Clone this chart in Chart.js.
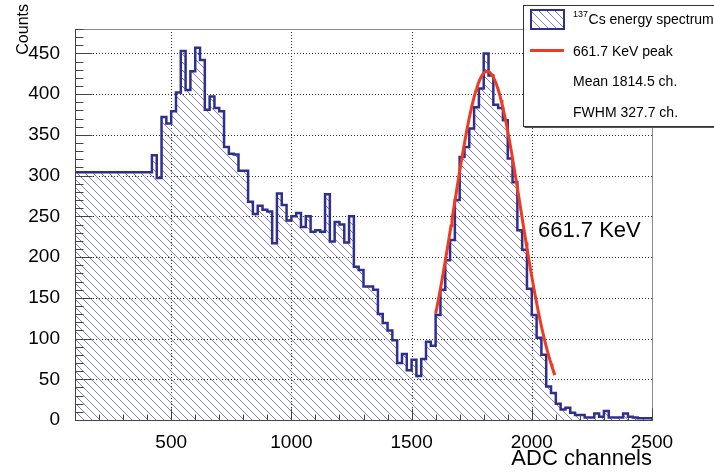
<!DOCTYPE html>
<html>
<head>
<meta charset="utf-8">
<title>137Cs energy spectrum</title>
<script src="https://cdn.jsdelivr.net/npm/chart.js@4.4.1/dist/chart.umd.min.js"></script>
<style>
  html, body { margin: 0; padding: 0; background: #fff; }
  #wrap { width: 714px; height: 475px; }
</style>
</head>
<body>
<div id="wrap"><canvas id="spectrum" width="714" height="475"></canvas></div>
<script>
// ADC histogram, 20 channel bins starting at channel 100
const BIN_START = 100;
const BIN_WIDTH = 20;
const counts = [
    304, 304, 304, 304, 304, 304, 304, 304, 304, 304, 304, 304, 304, 304, 304, 304,
    325, 297, 372, 364, 379, 402, 453, 405, 428, 457, 442, 381, 397, 383, 379, 335,
    327, 326, 306, 306, 268, 253, 263, 258, 256, 217, 278, 264, 245, 250, 254, 237,
    250, 231, 233, 231, 277, 219, 243, 240, 218, 250, 188, 184, 164, 164, 160, 130,
    119, 110, 98, 70, 81, 61, 74, 54, 75, 96, 91, 129, 160, 196, 221, 270,
    323, 335, 358, 384, 407, 450, 423, 387, 383, 368, 321, 292, 233, 209, 161, 129,
    101, 80, 41, 33, 20, 13, 15, 9, 6, 6, 3, 3, 8, 4, 11, 3,
    3, 3, 8, 4, 3, 2, 2, 2
];

// gaussian fit of the photopeak
const FIT_MEAN = 1814.5;
const FIT_FWHM = 327.7;
const FIT_AMPLITUDE = 428;
const FIT_FROM = 1600;
const FIT_TO = 2097;
const FIT_STEP = 4;

const X_MIN = 100, X_MAX = 2500;
const Y_MIN = 0, Y_MAX = 480;
const xMajor = [500, 1000, 1500, 2000, 2500];
const yMajor = [0, 50, 100, 150, 200, 250, 300, 350, 400, 450];

const yTitle = 'Counts';
const peakText = '661.7 KeV';
const legendRows = [
    { sup: '137', text: 'Cs energy spectrum' },
    { text: '661.7 KeV peak' },
    { text: 'Mean ' + FIT_MEAN.toFixed(1) + ' ch.' },
    { text: 'FWHM ' + FIT_FWHM.toFixed(1) + ' ch.' }
];

const FONT = "'Liberation Sans', Arial, Helvetica, sans-serif";
const NAVY = '#2f2f8e';
const HATCH = '#7d7dc8';
const RED = '#ef3b22';

// histogram points at the left edge of every bin, closed at X_MAX
const histPoints = counts.map((c, i) => ({ x: BIN_START + i * BIN_WIDTH, y: c }));
histPoints.push({ x: BIN_START + counts.length * BIN_WIDTH, y: counts[counts.length - 1] });

const sigma = FIT_FWHM / (2 * Math.sqrt(2 * Math.log(2)));
const fitPoints = [];
for (let ch = FIT_FROM; ch <= FIT_TO; ch += FIT_STEP) {
    fitPoints.push({ x: ch, y: FIT_AMPLITUDE * Math.exp(-Math.pow(ch - FIT_MEAN, 2) / (2 * sigma * sigma)) });
}

// diagonal hatch like ROOT fill style 3004
function hatchPattern(ctx) {
    const s = 8;
    const c = document.createElement('canvas');
    c.width = s; c.height = s;
    const g = c.getContext('2d');
    g.strokeStyle = HATCH;
    g.lineWidth = 1;
    g.beginPath();
    g.moveTo(-1, -1); g.lineTo(s + 1, s + 1);
    g.moveTo(-1, s - 1); g.lineTo(1, s + 1);
    g.moveTo(s - 1, -1); g.lineTo(s + 1, 1);
    g.stroke();
    return ctx.createPattern(c, 'repeat');
}

const canvas = document.getElementById('spectrum');
const ctx = canvas.getContext('2d');
const hatch = hatchPattern(ctx);

// dotted grid, frame and inward ticks
const framePlugin = {
    id: 'rootFrame',
    beforeDatasetsDraw(chart) {
        const { ctx, chartArea: { left, right, top, bottom }, scales: { x, y } } = chart;
        ctx.save();
        ctx.strokeStyle = '#333';
        ctx.lineWidth = 1;
        ctx.setLineDash([1, 2]);
        ctx.beginPath();
        xMajor.forEach(v => {
            if (v >= X_MAX) return;
            const px = Math.round(x.getPixelForValue(v)) + 0.5;
            ctx.moveTo(px, top); ctx.lineTo(px, bottom);
        });
        yMajor.forEach(v => {
            if (v <= Y_MIN) return;
            const py = Math.round(y.getPixelForValue(v)) + 0.5;
            ctx.moveTo(left, py); ctx.lineTo(right, py);
        });
        ctx.stroke();
        ctx.restore();
    },
    afterDatasetsDraw(chart) {
        const { ctx, chartArea: { left, right, top, bottom }, scales: { x, y } } = chart;
        ctx.save();
        ctx.lineWidth = 1;
        ctx.strokeStyle = '#8a8a8a';
        ctx.strokeRect(Math.round(left) + 0.5, Math.round(top) + 0.5, Math.round(right - left), Math.round(bottom - top));

        ctx.strokeStyle = '#444';
        ctx.beginPath();
        const lx = Math.round(left) + 0.5, by = Math.round(bottom) + 0.5;
        ctx.moveTo(lx, top); ctx.lineTo(lx, by); ctx.lineTo(right, by);
        for (let v = Y_MIN; v <= Y_MAX; v += 10) {
            const py = Math.round(y.getPixelForValue(v)) + 0.5;
            ctx.moveTo(lx, py); ctx.lineTo(lx + (v % 50 === 0 ? 17 : 8), py);
        }
        for (let v = X_MIN; v <= X_MAX; v += 100) {
            const px = Math.round(x.getPixelForValue(v)) + 0.5;
            ctx.moveTo(px, by); ctx.lineTo(px, by - (v % 500 === 0 ? 12 : 6));
        }
        ctx.stroke();
        ctx.restore();
    },
    afterDraw(chart) {
        const { ctx } = chart;
        ctx.save();
        ctx.fillStyle = '#000';

        // y axis title, read upwards near the top left corner
        ctx.save();
        ctx.translate(28, 4);
        ctx.rotate(-Math.PI / 2);
        ctx.font = '16px ' + FONT;
        ctx.textAlign = 'right';
        ctx.fillText(yTitle, 0, 0);
        ctx.restore();

        // peak label
        ctx.font = '22px ' + FONT;
        ctx.textBaseline = 'alphabetic';
        ctx.fillText(peakText, 538, 237);

        // legend box with a thin drop shadow
        const bx = 523.5, by = 5.5, bw = 200, bh = 121;
        ctx.fillStyle = '#555';
        ctx.fillRect(bx + 1, by + bh, bw, 1.5);
        ctx.fillStyle = '#fff';
        ctx.fillRect(bx, by, bw, bh);
        ctx.strokeStyle = '#333';
        ctx.lineWidth = 1;
        ctx.strokeRect(bx, by, bw, bh);

        ctx.fillStyle = hatch;
        ctx.fillRect(531, 10, 33, 19);
        ctx.strokeStyle = NAVY;
        ctx.lineWidth = 2;
        ctx.strokeRect(531, 10, 33, 19);

        ctx.strokeStyle = RED;
        ctx.lineWidth = 3;
        ctx.beginPath();
        ctx.moveTo(530, 50.5); ctx.lineTo(564, 50.5);
        ctx.stroke();

        const baselines = [24, 55.5, 86, 116.5];
        ctx.fillStyle = '#000';
        legendRows.forEach((row, i) => {
            let tx = 573;
            if (row.sup) {
                ctx.font = '9px ' + FONT;
                ctx.fillText(row.sup, tx, baselines[i] - 7);
                tx += ctx.measureText(row.sup).width + 0.5;
            }
            ctx.font = '14px ' + FONT;
            ctx.fillText(row.text, tx, baselines[i]);
        });
        ctx.restore();
    }
};

new Chart(ctx, {
    type: 'line',
    plugins: [framePlugin],
    data: {
        datasets: [
            {
                label: 'spectrum',
                data: histPoints,
                stepped: 'before',
                borderColor: NAVY,
                borderWidth: 2.5,
                backgroundColor: hatch,
                fill: 'origin',
                pointRadius: 0,
                order: 2
            },
            {
                label: 'fit',
                data: fitPoints,
                borderColor: RED,
                borderWidth: 3,
                tension: 0,
                fill: false,
                pointRadius: 0,
                order: 1
            }
        ]
    },
    options: {
        responsive: false,
        animation: false,
        layout: { padding: { top: 29, right: 62, left: 0, bottom: 0 } },
        plugins: {
            legend: { display: false },
            tooltip: { enabled: false }
        },
        scales: {
            x: {
                type: 'linear',
                min: X_MIN,
                max: X_MAX,
                afterFit: s => { s.height = 55; },
                afterBuildTicks: s => { s.ticks = xMajor.map(v => ({ value: v })); },
                grid: { display: false },
                border: { display: false },
                ticks: {
                    autoSkip: false,
                    maxRotation: 0,
                    padding: 3,
                    color: '#000',
                    font: { family: FONT, size: 19 },
                    callback: v => String(v)
                },
                title: {
                    display: true,
                    text: 'ADC channels',
                    align: 'end',
                    color: '#000',
                    font: { family: FONT, size: 22 },
                    padding: { top: 0, bottom: 3 }
                }
            },
            y: {
                type: 'linear',
                min: Y_MIN,
                max: Y_MAX,
                afterFit: s => { s.width = 75; },
                afterBuildTicks: s => { s.ticks = yMajor.map(v => ({ value: v })); },
                grid: { display: false },
                border: { display: false },
                ticks: {
                    padding: 7,
                    color: '#000',
                    font: { family: FONT, size: 19 },
                    callback: v => String(v)
                },
                title: { display: false }
            }
        }
    }
});
</script>
</body>
</html>
